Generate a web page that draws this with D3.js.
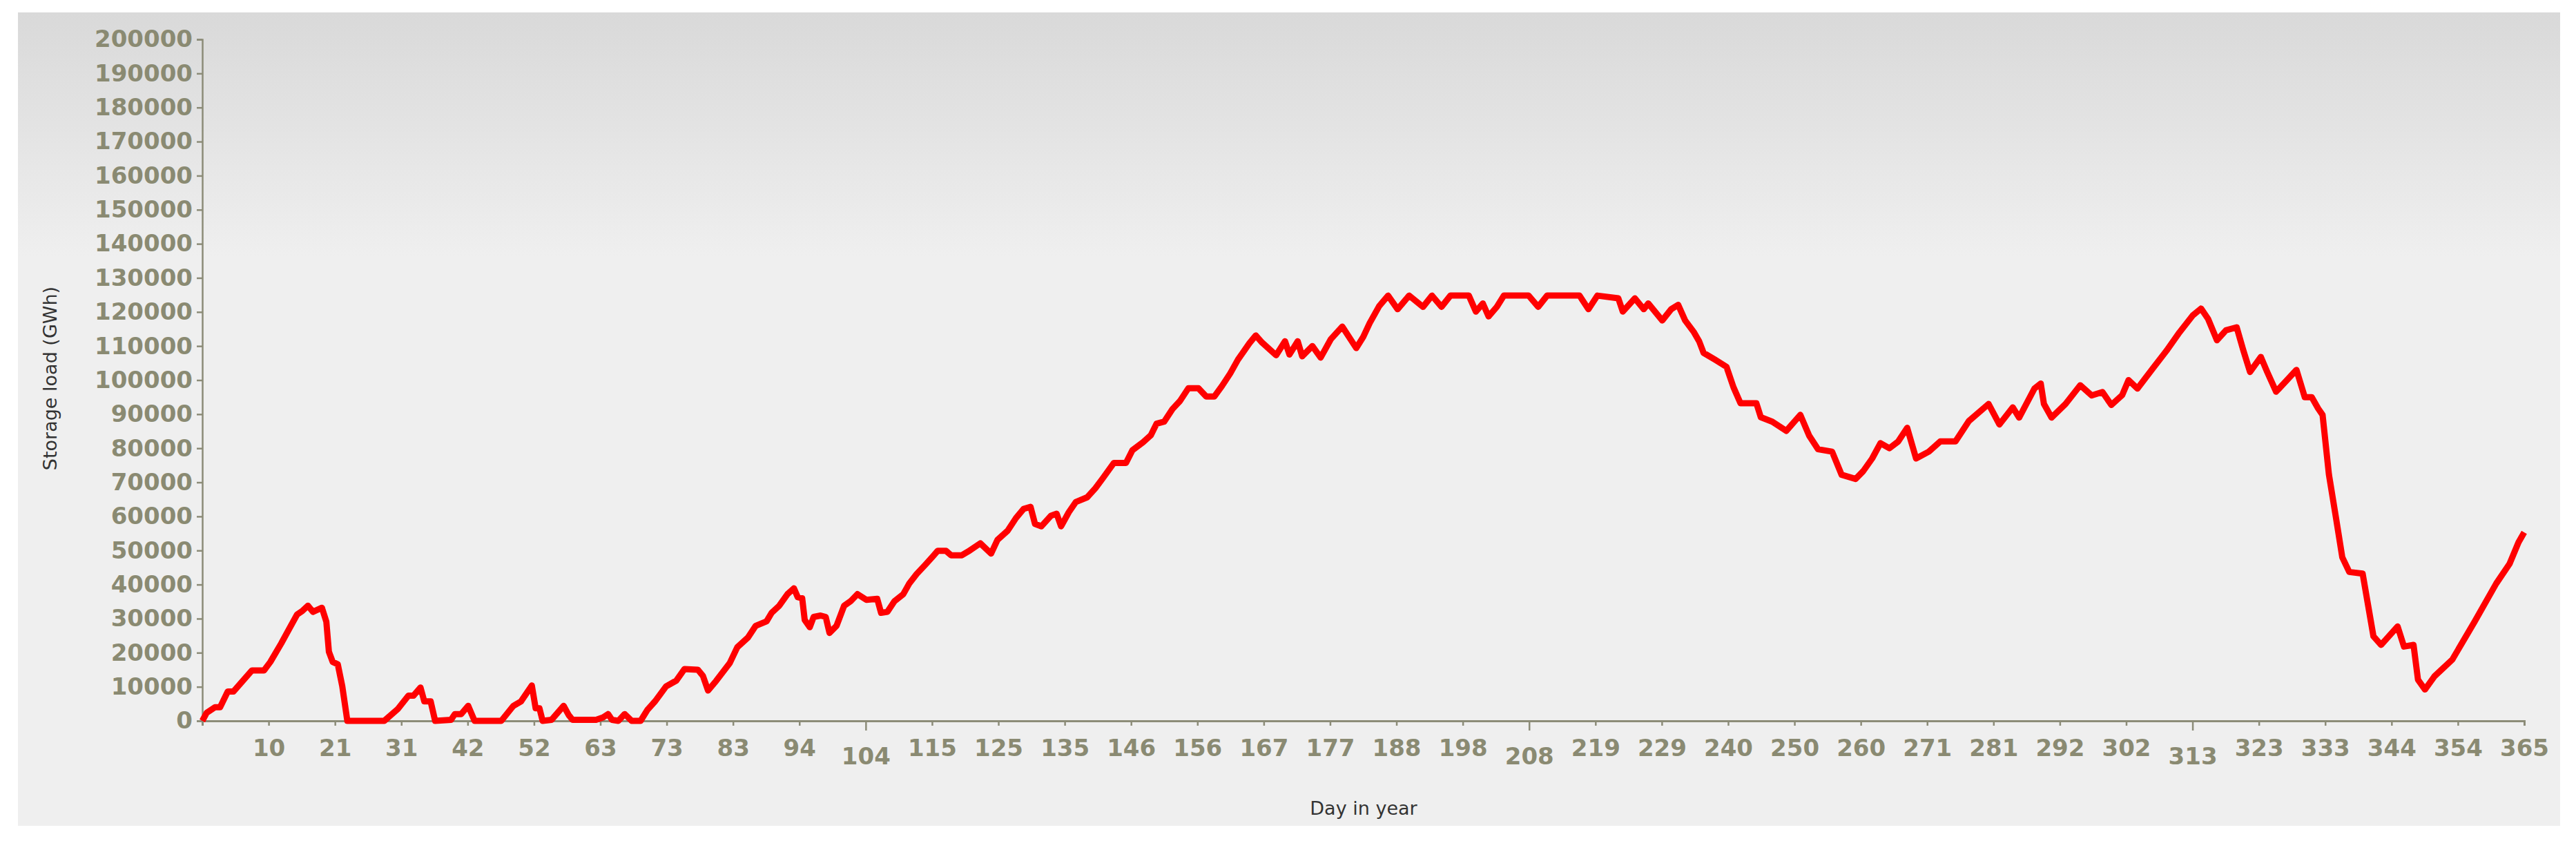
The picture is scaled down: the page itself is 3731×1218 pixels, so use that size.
<!DOCTYPE html>
<html>
<head>
<meta charset="utf-8">
<style>
	body { margin: 0; background: #fff; }
	svg text { font-family: "DejaVu Sans", Verdana, sans-serif; }
</style>
</head>
<body>
<script src="https://cdn.jsdelivr.net/npm/d3@7/dist/d3.min.js"></script>
<script>
// storage load by day of year (day, GWh)
var days = [0,0.7,2,2.8,4,4.9,6.3,7.8,9.7,10.7,12.4,13.6,14.9,15.7,16.6,17.4,18.8,19.5,19.9,20.5,21.3,22,22.8,28.6,30.7,32.4,33.2,34.3,34.9,35.9,36.6,39.1,39.7,40.7,41.8,42.8,47,48.9,50.1,51.8,52.4,53,53.5,54.9,56.8,57.6,58.2,61.9,63,63.8,64.4,65.4,66.4,67.5,68.9,70,71.2,72.9,74.5,75.8,77.9,78.7,79.5,80.8,82.9,84.1,85.8,87,88.7,89.5,90.7,92,93,93.6,94.3,94.7,95.5,96.1,97.2,98,98.6,99.7,100.9,101.9,103,104.4,106.1,106.7,107.7,108.8,110.2,111.1,112.3,113.6,114.8,115.6,116.9,117.7,119.4,120.4,122.3,124,125,126.6,127.9,129.1,130.2,130.9,131.9,133.4,134.3,135,136.2,137.3,139.1,140.4,141.6,143.3,145.2,146.2,147.9,149.1,150,151.2,152.5,153.7,155,156.6,157.8,159.1,160.3,161.6,162.8,164.6,165.6,166.6,168.8,170.2,170.9,172.2,172.9,174.5,175.8,177.4,179.2,181.4,182.5,183.5,185,186.4,187.9,189.7,191.9,193.3,194.8,196.2,199.1,200.2,201.3,202.2,203.5,204.6,208.5,210,211.4,216.5,217.9,219.3,222.6,223.3,225.2,226.6,227.3,229.5,230.9,232,233.1,234.5,235.3,236,237.8,239.6,240.7,241.8,244.3,245,246.8,249,251.2,252.6,254,256.2,257.7,259.9,261.1,262.5,263.8,265.2,266.6,268,269.4,271.4,273.2,275.6,277.7,280.8,282.5,284.6,285.6,288,289,289.5,290.7,292.9,295.2,297,298.7,300.1,301.8,302.8,304.2,306.6,308.8,310.8,312.9,314.2,315.3,316.7,318.1,319.8,320.8,321.9,323.6,324.6,326,329.2,330.5,331.6,332.6,333.3,334.3,335.4,336.4,337.5,339.6,341.3,342.5,345.1,346.1,347.6,348.3,349.4,350.9,353.7,357.2,360.6,362.7,364.1,365];
var load = [0,2400,4000,4000,8600,8600,11600,14800,14800,17300,22700,26800,31200,32200,33800,32000,33200,29100,20300,17300,16600,10200,0,0,3400,7400,7400,9800,5700,5700,0,300,2000,2000,4400,0,0,4400,5700,10400,3700,3700,0,300,4400,1700,300,300,1000,2000,300,0,2000,0,0,3300,5800,10100,11800,15200,15000,13200,8900,11800,16900,21600,24500,27900,29200,31700,33800,37200,38900,36300,36000,29600,27500,30500,30900,30500,25800,27900,33800,35100,37200,35500,35800,31700,32000,35100,37200,40200,43100,45700,48200,49900,49900,48600,48600,49700,52100,49100,53100,55800,59500,62200,62800,57800,57100,60200,60800,57100,61200,64200,65600,68300,71300,75700,75700,79400,81800,83800,87200,87800,91500,93900,97600,97600,95200,95200,98300,102000,106000,110800,113100,111000,107300,111400,107500,111400,107000,110000,106600,112000,115700,109400,112700,116700,121700,124800,120800,124800,121500,124800,121500,124800,124800,120100,122500,118700,121500,124800,124800,121500,124800,124800,120800,124800,124000,120100,124000,120800,122500,117500,120800,122100,117500,114000,111400,108000,106000,103900,97900,93200,93200,89100,87800,85100,89800,83700,79700,79000,72200,71000,73300,77000,81500,80000,82000,86000,77000,79000,82000,82000,88000,93000,87000,92000,89000,97500,99000,93000,89000,93000,98500,95500,96500,92700,95600,100000,97500,103400,108700,114000,119000,121000,118000,111700,114600,115500,109000,102400,106800,102400,96600,103000,95000,95000,91700,89800,72300,59700,48000,43700,43200,24800,22300,27700,21800,22300,12100,9200,13100,18000,29100,40300,46100,52400,55300];

var yTicks = d3.range(0, 200001, 10000);
var xTickLabels = [10,21,31,42,52,63,73,83,94,104,115,125,135,146,156,167,177,188,198,208,219,229,240,250,260,271,281,292,302,313,323,333,344,354,365];
var xTickPos = d3.range(1, 36).map(function(k){ return k * 365 / 35; });

var W = 3731, H = 1218;
var svg = d3.select("body").append("svg")
	.attr("width", W)
	.attr("height", H);

var grad = svg.append("defs").append("linearGradient")
	.attr("id", "bg").attr("x1", 0).attr("y1", 0).attr("x2", 0).attr("y2", 1);
grad.append("stop").attr("offset", "0").attr("stop-color", "#d9d9d9");
grad.append("stop").attr("offset", "0.3").attr("stop-color", "#efefef");
grad.append("stop").attr("offset", "1").attr("stop-color", "#efefef");

svg.append("rect")
	.attr("x", 26).attr("y", 18)
	.attr("width", 3682).attr("height", 1178)
	.attr("fill", "url(#bg)");

var x = d3.scaleLinear().domain([0, 365]).range([293, 3656]);
var y = d3.scaleLinear().domain([0, 200000]).range([1044, 57]);

var axisCol = "#8c8c78";

// y axis
var yAxis = svg.append("g")
	.attr("transform", "translate(" + x(0) + ",0)")
	.call(d3.axisLeft(y).tickValues(yTicks).tickSize(8).tickPadding(6).tickFormat(d3.format("d")));
yAxis.selectAll("path, line").attr("stroke", axisCol).attr("stroke-width", 2.5);
yAxis.selectAll("text")
	.attr("fill", "#8a8a72")
	.style("font-size", "34px")
	.style("font-weight", "bold");

// x axis
var xAxis = svg.append("g")
	.attr("transform", "translate(0," + y(0) + ")")
	.call(d3.axisBottom(x).tickValues(xTickPos).tickSize(7).tickPadding(20)
		.tickFormat(function(d, i){ return xTickLabels[i]; }));
xAxis.select("path").attr("stroke", axisCol).attr("stroke-width", 3);
xAxis.selectAll("line").attr("stroke", axisCol).attr("stroke-width", 2.5)
	.attr("y2", function(d, i){ return (i + 1) % 10 === 0 ? 14 : 7; });
xAxis.selectAll("text")
	.attr("fill", "#8a8a72")
	.attr("dy", function(d, i){ return (i + 1) % 10 === 0 ? "1.05em" : "0.71em"; })
	.style("font-size", "34px")
	.style("font-weight", "bold");

// axis titles
svg.append("text")
	.attr("transform", "translate(82," + 548 + ") rotate(-90)")
	.attr("text-anchor", "middle")
	.attr("fill", "#333")
	.style("font-size", "27px")
	.text("Storage load (GWh)");

svg.append("text")
	.attr("x", 1975).attr("y", 1180)
	.attr("text-anchor", "middle")
	.attr("fill", "#333")
	.style("font-size", "27px")
	.text("Day in year");

// the line
var line = d3.line()
	.x(function(d, i){ return x(days[i]); })
	.y(function(d){ return y(d); });

svg.append("path")
	.datum(load)
	.attr("d", line)
	.attr("fill", "none")
	.attr("stroke", "#ff0000")
	.attr("stroke-width", 9)
	.attr("stroke-linejoin", "round");
</script>
</body>
</html>
